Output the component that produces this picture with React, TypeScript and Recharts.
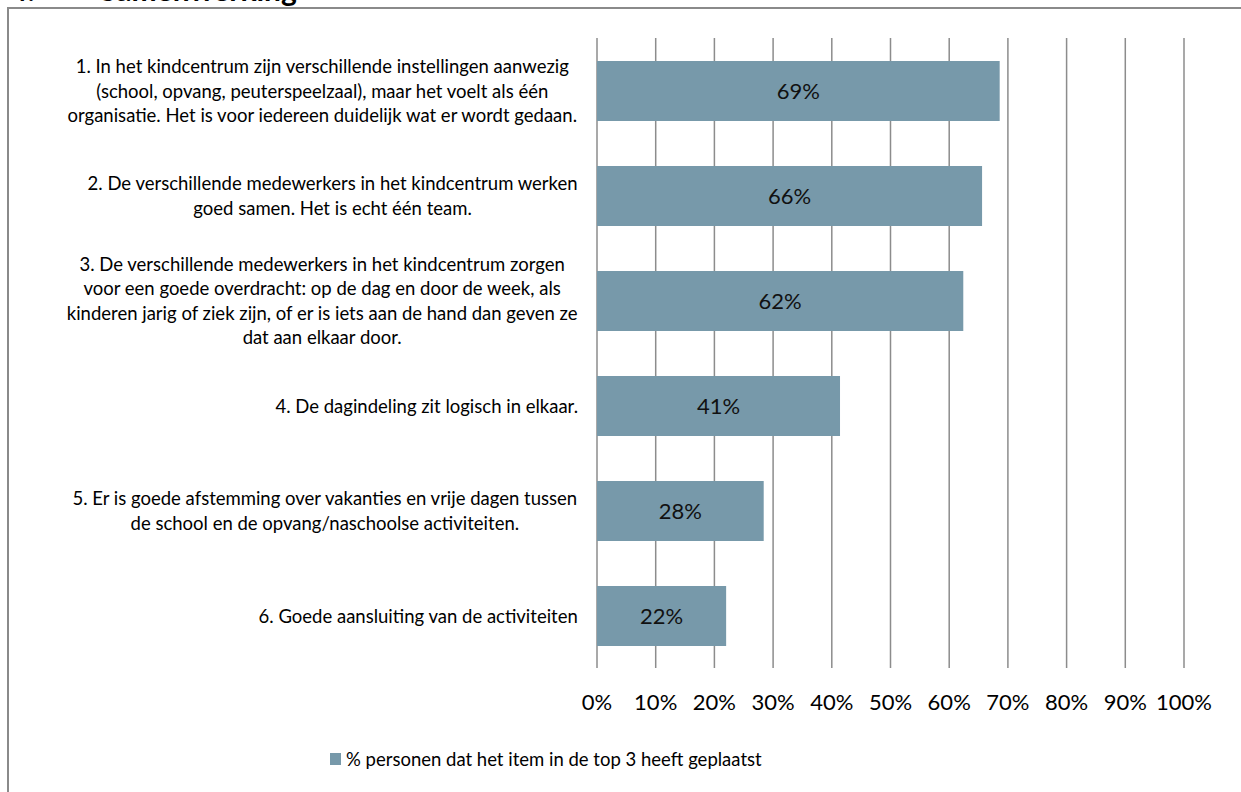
import React from 'react';
import { BarChart, Bar, XAxis, YAxis, CartesianGrid, Legend, LabelList } from 'recharts';

// item texts, already broken into lines as they appear on the chart
const itemLines: string[][] = [
  [
    '1. In het kindcentrum zijn verschillende instellingen aanwezig',
    '(school, opvang, peuterspeelzaal), maar het voelt als één',
    'organisatie. Het is voor iedereen duidelijk wat er wordt gedaan.',
  ],
  ['2. De verschillende medewerkers in het kindcentrum werken', 'goed samen. Het is echt één team.'],
  [
    '3. De verschillende medewerkers in het kindcentrum zorgen',
    'voor een goede overdracht: op de dag en door de week, als',
    'kinderen jarig of ziek zijn, of er is iets aan de hand dan geven ze',
    'dat aan elkaar door.',
  ],
  ['4. De dagindeling zit logisch in elkaar.'],
  ['5. Er is goede afstemming over vakanties en vrije dagen tussen', 'de school en de opvang/naschoolse activiteiten.'],
  ['6. Goede aansluiting van de activiteiten'],
];

const shares = [68.6, 65.6, 62.4, 41.4, 28.4, 22.0];
const percentTicks = [0, 10, 20, 30, 40, 50, 60, 70, 80, 90, 100];
const seriesName = '% personen dat het item in de top 3 heeft geplaatst';

const FONT = 'Lato, "Open Sans", sans-serif';
const BAR_COLOR = '#7799aa';
const LABEL_SIZE = 18.5;
const LINE_H = 24.5;

const data = itemLines.map((lines, i) => ({ item: lines.join(' '), share: shares[i] }));

let ctx: CanvasRenderingContext2D | null = null;
const textWidth = (s: string, font: string) => {
  if (!ctx) ctx = document.createElement('canvas').getContext('2d');
  if (!ctx) return s.length * 8;
  ctx.font = font;
  return ctx.measureText(s).width;
};

// multi-line label, lines centred on each other, block right-aligned to the tick
const ItemTick = (props: any) => {
  const { x, y, payload } = props;
  const lines = itemLines[payload.index] || [String(payload.value)];
  const font = `${LABEL_SIZE}px Lato`;
  const w = Math.max(...lines.map((l) => textWidth(l, font)));
  const cx = x - w / 2;
  return (
    <g>
      {lines.map((l, i) => (
        <text
          key={i}
          x={cx}
          y={y + (i - (lines.length - 1) / 2) * LINE_H}
          textAnchor="middle"
          dominantBaseline="central"
          fontFamily={FONT}
          fontSize={LABEL_SIZE}
          fill="#000"
        >
          {l}
        </text>
      ))}
    </g>
  );
};

const LegendBox = () => (
  <div style={{ display: 'flex', alignItems: 'center', fontFamily: FONT, fontSize: 18.5, lineHeight: '24px', color: '#000' }}>
    <span style={{ display: 'inline-block', width: 11, height: 12, background: BAR_COLOR, marginRight: 5 }} />
    <span>{seriesName}</span>
  </div>
);

const App = () => {
  return (
    <div style={{ position: 'absolute', left: 0, top: 0, width: 1241, height: 792, overflow: 'hidden', background: '#fff' }}>
      <div style={{ position: 'absolute', left: 10, top: -26, fontFamily: FONT, fontWeight: 700, fontSize: 30, lineHeight: '30px', whiteSpace: 'nowrap' }}>
        4.
      </div>
      <div style={{ position: 'absolute', left: 100, top: -26, fontFamily: FONT, fontWeight: 700, fontSize: 30, lineHeight: '30px', whiteSpace: 'nowrap' }}>
        Samenwerking
      </div>
      <div style={{ position: 'absolute', left: 7, top: 7, width: 1300, height: 900, border: '2px solid #8a8a8a' }} />
      <div style={{ position: 'absolute', left: 0, top: 0 }}>
        <BarChart
          width={1241}
          height={792}
          data={data}
          layout="vertical"
          margin={{ top: 38, right: 57, bottom: 21, left: 0 }}
        >
          <CartesianGrid horizontal={false} vertical stroke="#8c8c8c" strokeWidth={1.5} />
          <XAxis
            type="number"
            domain={[0, 100]}
            ticks={percentTicks}
            interval={0}
            tickFormatter={(v: number) => `${v}%`}
            axisLine={false}
            tickLine={false}
            tickSize={0}
            tickMargin={26}
            height={79}
            tick={{ fontFamily: FONT, fontSize: 22, fill: '#000' }}
          />
          <YAxis
            type="category"
            dataKey="item"
            width={597}
            axisLine={false}
            tickLine={false}
            tickSize={0}
            tickMargin={19}
            interval={0}
            tick={<ItemTick />}
          />
          <Legend
            verticalAlign="bottom"
            content={<LegendBox />}
            wrapperStyle={{ left: 330, width: 'auto', height: 24 }}
          />
          <Bar dataKey="share" name={seriesName} fill={BAR_COLOR} barSize={60} isAnimationActive={false}>
            <LabelList
              dataKey="share"
              position="center"
              formatter={(v: any) => `${Math.round(Number(v))}%`}
              fill="#111"
              fontFamily={FONT}
              fontSize={22}
            />
          </Bar>
        </BarChart>
      </div>
    </div>
  );
};

export default App;
